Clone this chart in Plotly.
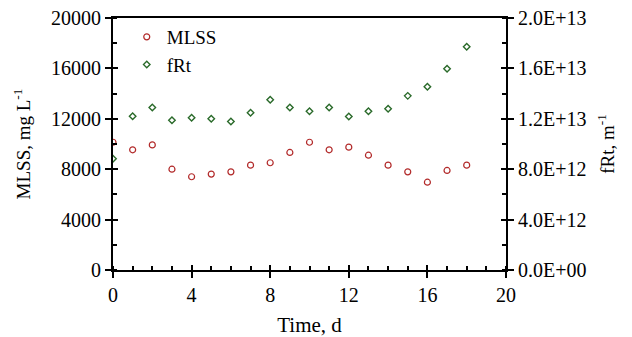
import plotly.graph_objects as go

time_d = list(range(0, 19))
mlss = [10140, 9540, 9930, 8000, 7400, 7610, 7790, 8320, 8510, 9330, 10140,
        9540, 9750, 9110, 8320, 7790, 6970, 7900, 8320]
frt = [8.83e12, 12.21e12, 12.90e12, 11.89e12, 12.08e12, 12.00e12, 11.79e12, 12.48e12,
       13.51e12, 12.90e12, 12.60e12, 12.90e12, 12.18e12, 12.60e12, 12.79e12, 13.82e12,
       14.54e12, 15.97e12, 17.71e12]

x_ticks = [0, 4, 8, 12, 16, 20]
y1_ticks = [0, 4000, 8000, 12000, 16000, 20000]
y1_ticklabels = ["0", "4000", "8000", "12000", "16000", "20000"]
y2_ticks = [0, 4e12, 8e12, 12e12, 16e12, 20e12]
y2_ticklabels = ["0.0E+00", "4.0E+12", "8.0E+12", "1.2E+13", "1.6E+13", "2.0E+13"]

FONT = "'Liberation Serif', 'Times New Roman', serif"
red = "#b22a2a"
green = "#2a6a2a"

fig = go.Figure()
fig.add_trace(go.Scatter(x=time_d, y=mlss, mode="markers", name="MLSS",
                         marker=dict(symbol="circle-open", size=6, color=red,
                                     line=dict(width=1.2, color=red)),
                         xaxis="x", yaxis="y"))
fig.add_trace(go.Scatter(x=time_d, y=frt, mode="markers", name="fRt",
                         marker=dict(symbol="diamond-open", size=5, color=green,
                                     line=dict(width=1.4, color=green)),
                         xaxis="x", yaxis="y2"))

axis_common = dict(showgrid=False, zeroline=False, linecolor="black", linewidth=2,
                   tickcolor="black", tickwidth=2, ticklen=6, automargin=False,
                   ticklabeloverflow="allow",
                   tickfont=dict(family=FONT, size=20, color="black"))

# the page body adds an 8px offset, so the figure is sized to fit the window
fig.update_layout(
    width=624, height=329,
    margin=dict(l=105, r=126, t=10, b=67),
    paper_bgcolor="white", plot_bgcolor="white",
    font=dict(family=FONT, size=19, color="black"),
    showlegend=True,
    legend=dict(x=0.035, y=1.0, xanchor="left", yanchor="top",
                bgcolor="rgba(0,0,0,0)", font=dict(family=FONT, size=19),
                itemwidth=30, tracegroupgap=0),
    xaxis=dict(range=[0, 20], tickvals=x_ticks, ticks="outside", showline=True, mirror=True,
               minor=dict(dtick=1, ticks="inside", ticklen=4, tickwidth=1.5, tickcolor="black"),
               title=dict(text="Time, d", font=dict(family=FONT, size=21)),
               anchor="y", **axis_common),
    xaxis3=dict(range=[0, 20], tickvals=x_ticks, ticks="inside", showline=False,
                showticklabels=False, overlaying="x", anchor="y", showgrid=False, automargin=False,
                zeroline=False, tickcolor="black", tickwidth=2, ticklen=5),
    yaxis=dict(range=[0, 20000], tickvals=y1_ticks, ticktext=y1_ticklabels, ticks="outside",
               showline=True,
               minor=dict(dtick=2000, ticks="inside", ticklen=4, tickwidth=1.5, tickcolor="black"),
               title=dict(text="MLSS, mg L<sup>-1</sup>", font=dict(family=FONT, size=19)),
               anchor="x", **axis_common),
    yaxis3=dict(range=[0, 20000], tickvals=y1_ticks, ticks="inside", showline=False,
                showticklabels=False, overlaying="y", side="left", anchor="x", showgrid=False,
                automargin=False, zeroline=False, tickcolor="black", tickwidth=2, ticklen=5),
    yaxis2=dict(range=[0, 2e13], tickvals=y2_ticks, ticktext=y2_ticklabels, ticks="outside",
                showline=True, overlaying="y", side="right", anchor="x",
                minor=dict(dtick=2e12, ticks="inside", ticklen=4, tickwidth=1.5, tickcolor="black"),
                title=dict(text="fRt, m<sup>-1</sup>", font=dict(family=FONT, size=19)),
                **axis_common),
    yaxis4=dict(range=[0, 2e13], tickvals=y2_ticks, ticks="inside", showline=False,
                showticklabels=False, overlaying="y", side="right", anchor="x", showgrid=False,
                automargin=False, zeroline=False, tickcolor="black", tickwidth=2, ticklen=5),
)

# invisible traces to activate the overlay axes used for crossing ticks
fig.add_trace(go.Scatter(x=[None], y=[None], xaxis="x3", yaxis="y3", showlegend=False, hoverinfo="skip"))
fig.add_trace(go.Scatter(x=[None], y=[None], xaxis="x3", yaxis="y4", showlegend=False, hoverinfo="skip"))

fig.write_html("out.html")
